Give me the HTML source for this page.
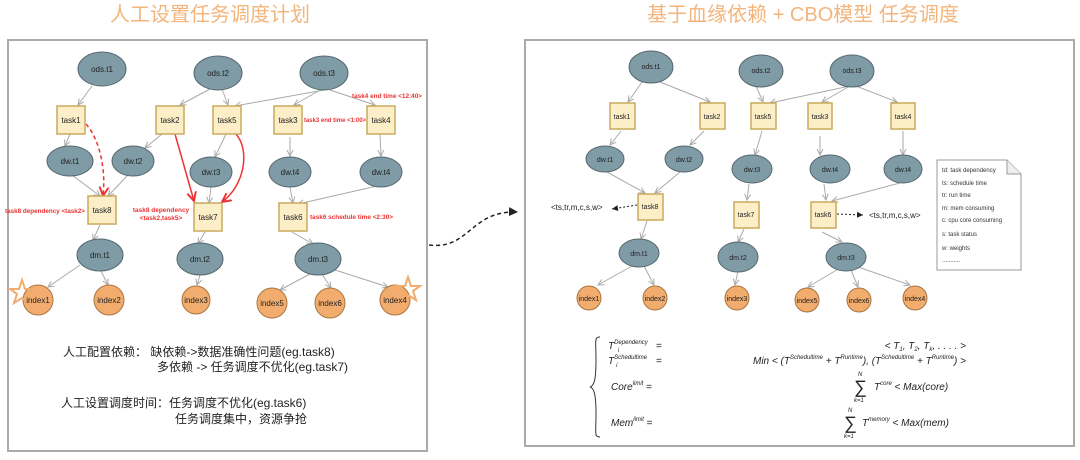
<!DOCTYPE html>
<html><head><meta charset="utf-8"><style>
html,body{margin:0;padding:0;background:#fff;}
svg{display:block;}
text{font-family:"Liberation Sans","Noto Sans CJK SC",sans-serif;}
</style></head><body>
<svg width="1080" height="460" viewBox="0 0 1080 460" xmlns="http://www.w3.org/2000/svg">
<defs>
<marker id="ag" markerWidth="8" markerHeight="8" refX="6" refY="4" orient="auto"><path d="M0,1 L6,4 L0,7" fill="none" stroke="#aaa" stroke-width="1"/></marker>
<marker id="ar" markerWidth="8" markerHeight="8" refX="6" refY="4" orient="auto"><path d="M0,1 L6,4 L0,7" fill="none" stroke="#e33" stroke-width="1.3"/></marker>
<marker id="ab" markerWidth="8" markerHeight="8" refX="6" refY="4" orient="auto"><path d="M0,1 L6,4 L0,7 Z" fill="#222"/></marker>
</defs>
<text x="210" y="21" font-size="20" fill="#f4b57c" text-anchor="middle">人工设置任务调度计划</text>
<text x="803" y="21" font-size="20" fill="#f4b57c" text-anchor="middle">基于血缘依赖 + CBO模型 任务调度</text>
<rect x="8" y="40" width="419" height="411" fill="#fff" stroke="#aaa" stroke-width="2"/>
<rect x="525" y="40" width="549" height="406" fill="#fff" stroke="#aaa" stroke-width="2"/>
<path d="M429,245 C470,250 470,210 518,212" fill="none" stroke="#222" stroke-width="1.5" stroke-dasharray="4,3" marker-end="url(#ab)"/>

<g stroke="#aaa" stroke-width="1" fill="none" marker-end="url(#ag)">
<line x1="92" y1="86" x2="78" y2="105"/>
<line x1="210" y1="89" x2="180" y2="105"/>
<line x1="222" y1="89" x2="228" y2="105"/>
<line x1="324" y1="90" x2="235" y2="106"/>
<line x1="320" y1="90" x2="294" y2="105"/>
<line x1="330" y1="90" x2="375" y2="105"/>
<line x1="70" y1="134" x2="65" y2="146"/>
<line x1="162" y1="134" x2="145" y2="148"/>
<line x1="226" y1="134" x2="215" y2="157"/>
<line x1="290" y1="137" x2="290" y2="156"/>
<line x1="380" y1="134" x2="381" y2="156"/>
<line x1="72" y1="175" x2="100" y2="196"/>
<line x1="128" y1="175" x2="108" y2="196"/>
<line x1="211" y1="187" x2="209" y2="203"/>
<line x1="290" y1="187" x2="293" y2="203"/>
<line x1="377" y1="186" x2="298" y2="204"/>
<line x1="100" y1="225" x2="93" y2="240"/>
<line x1="205" y1="232" x2="198" y2="244"/>
<line x1="292" y1="232" x2="313" y2="244"/>
<line x1="80" y1="265" x2="48" y2="287"/>
<line x1="101" y1="271" x2="108" y2="285"/>
<line x1="200" y1="275" x2="197" y2="285"/>
<line x1="310" y1="274" x2="280" y2="290"/>
<line x1="322" y1="274" x2="331" y2="288"/>
<line x1="335" y1="270" x2="388" y2="287"/>
<line x1="642" y1="82" x2="628" y2="102"/>
<line x1="660" y1="82" x2="710" y2="102"/>
<line x1="756" y1="86" x2="763" y2="102"/>
<line x1="850" y1="86" x2="770" y2="103"/>
<line x1="850" y1="86" x2="822" y2="102"/>
<line x1="856" y1="86" x2="897" y2="102"/>
<line x1="621" y1="131" x2="610" y2="145"/>
<line x1="704" y1="131" x2="690" y2="145"/>
<line x1="762" y1="131" x2="755" y2="155"/>
<line x1="820" y1="136" x2="820" y2="155"/>
<line x1="903" y1="131" x2="903" y2="155"/>
<line x1="607" y1="172" x2="645" y2="193"/>
<line x1="680" y1="172" x2="655" y2="193"/>
<line x1="749" y1="184" x2="747" y2="200"/>
<line x1="824" y1="184" x2="826" y2="200"/>
<line x1="900" y1="183" x2="832" y2="201"/>
<line x1="647" y1="221" x2="641" y2="239"/>
<line x1="744" y1="229" x2="738" y2="242"/>
<line x1="822" y1="232" x2="842" y2="242"/>
<line x1="632" y1="266" x2="598" y2="285"/>
<line x1="644" y1="266" x2="654" y2="285"/>
<line x1="738" y1="271" x2="735" y2="285"/>
<line x1="840" y1="268" x2="808" y2="287"/>
<line x1="851" y1="270" x2="858" y2="287"/>
<line x1="858" y1="267" x2="910" y2="285"/>
</g>
<g stroke="#e33" stroke-width="1.5" fill="none" marker-end="url(#ar)">
<path d="M86,124 C100,140 106,170 103,196" stroke-dasharray="4,3"/>
<path d="M175,134 L194,201"/>
<path d="M236,134 C250,150 245,185 222,202"/>
</g>
<g font-size="6.5" fill="#e33" font-weight="bold">
<text x="352" y="98" textLength="70" lengthAdjust="spacingAndGlyphs">task4 end time &lt;12:40&gt;</text>
<text x="304" y="122" textLength="62" lengthAdjust="spacingAndGlyphs">task3 end time &lt;1:00&gt;</text>
<text x="5" y="213" textLength="80" lengthAdjust="spacingAndGlyphs">task8 dependency &lt;task2&gt;</text>
<text x="161" y="212" text-anchor="middle">task8 dependency</text>
<text x="161" y="220" text-anchor="middle">&lt;task2,task5&gt;</text>
<text x="310" y="219" textLength="83" lengthAdjust="spacingAndGlyphs">task6 schedule time &lt;2:30&gt;</text>
</g>

<g fill="#7f9ba6" stroke="#56676e" stroke-width="1">
<ellipse cx="102" cy="69" rx="24" ry="17"/><ellipse cx="218" cy="73" rx="24" ry="17"/><ellipse cx="324" cy="73" rx="24" ry="17"/>
<ellipse cx="70" cy="161" rx="23" ry="15"/><ellipse cx="133" cy="161" rx="21" ry="15"/><ellipse cx="211" cy="172" rx="21" ry="15"/><ellipse cx="290" cy="172" rx="21" ry="15"/><ellipse cx="381" cy="172" rx="21" ry="15"/>
<ellipse cx="100" cy="255" rx="23" ry="16"/><ellipse cx="200" cy="259" rx="23" ry="16"/><ellipse cx="318" cy="259" rx="23" ry="16"/>
<ellipse cx="651" cy="67" rx="22" ry="16"/><ellipse cx="761" cy="71" rx="22" ry="16"/><ellipse cx="852" cy="71" rx="22" ry="16"/>
<ellipse cx="605" cy="159" rx="19" ry="13"/><ellipse cx="684" cy="159" rx="19" ry="13"/><ellipse cx="752" cy="169" rx="20" ry="14"/><ellipse cx="830" cy="169" rx="20" ry="14"/><ellipse cx="903" cy="169" rx="19" ry="14"/>
<ellipse cx="639" cy="253" rx="20" ry="14"/><ellipse cx="738" cy="257" rx="20" ry="15"/><ellipse cx="846" cy="257" rx="20" ry="14"/>
</g>
<g fill="#f2ad6e" stroke="#a8743f" stroke-width="1">
<circle cx="38" cy="300" r="15"/><circle cx="109" cy="300" r="15"/><circle cx="196" cy="300" r="14"/><circle cx="272" cy="303" r="15"/><circle cx="330" cy="303" r="15"/><circle cx="395" cy="300" r="15"/>
<circle cx="589" cy="298" r="12"/><circle cx="655" cy="298" r="12"/><circle cx="737" cy="298" r="12"/><circle cx="807" cy="300" r="12"/><circle cx="859" cy="300" r="12"/><circle cx="915" cy="298" r="12"/>
</g>
<g fill="none" stroke="#f2ad6e" stroke-width="2">
<path d="M22,280 L25,289 L34,289 L27,294 L30,303 L22,298 L14,303 L17,294 L10,289 L19,289 Z"/>
<path d="M408,277 L411,286 L420,286 L413,291 L416,300 L408,295 L400,300 L403,291 L396,286 L405,286 Z"/>
</g>
<g fill="#fcefc8" stroke="#c9aa5a" stroke-width="1.5">
<rect x="57" y="106" width="28" height="28"/><rect x="156" y="106" width="28" height="28"/><rect x="213" y="106" width="28" height="28"/><rect x="274" y="106" width="28" height="28"/><rect x="367" y="106" width="28" height="28"/>
<rect x="88" y="196" width="28" height="28"/><rect x="194" y="203" width="28" height="28"/><rect x="279" y="203" width="28" height="28"/>
<rect x="610" y="103" width="25" height="26"/><rect x="700" y="103" width="25" height="26"/><rect x="751" y="103" width="25" height="26"/><rect x="808" y="103" width="24" height="26"/><rect x="891" y="103" width="24" height="26"/>
<rect x="638" y="194" width="25" height="26"/><rect x="734" y="202" width="25" height="26"/><rect x="811" y="202" width="25" height="26"/>
</g>
<g font-size="8" fill="#222" text-anchor="middle">
<text x="102" y="72">ods.t1</text><text x="218" y="76">ods.t2</text><text x="324" y="76">ods.t3</text>
<text x="71" y="123">task1</text><text x="170" y="123">task2</text><text x="227" y="123">task5</text><text x="288" y="123">task3</text><text x="381" y="123">task4</text>
<text x="70" y="164">dw.t1</text><text x="133" y="164">dw.t2</text><text x="211" y="175">dw.t3</text><text x="290" y="175">dw.t4</text><text x="381" y="175">dw.t4</text>
<text x="102" y="213">task8</text><text x="208" y="220">task7</text><text x="293" y="220">task6</text>
<text x="100" y="258">dm.t1</text><text x="200" y="262">dm.t2</text><text x="318" y="262">dm.t3</text>
<text x="38" y="303">index1</text><text x="109" y="303">index2</text><text x="196" y="303">index3</text><text x="272" y="306">index5</text><text x="330" y="306">index6</text><text x="395" y="303">index4</text>
</g>
<g font-size="7" fill="#222" text-anchor="middle">
<text x="651" y="69">ods.t1</text><text x="761" y="73">ods.t2</text><text x="852" y="73">ods.t3</text>
<text x="622" y="119">task1</text><text x="712" y="119">task2</text><text x="763" y="119">task5</text><text x="820" y="119">task3</text><text x="903" y="119">task4</text>
<text x="605" y="162">dw.t1</text><text x="684" y="162">dw.t2</text><text x="752" y="172">dw.t3</text><text x="830" y="172">dw.t4</text><text x="903" y="172">dw.t4</text>
<text x="650" y="209">task8</text><text x="746" y="217">task7</text><text x="823" y="217">task6</text>
<text x="639" y="256">dm.t1</text><text x="738" y="260">dm.t2</text><text x="846" y="260">dm.t3</text>
<text x="589" y="301">index1</text><text x="655" y="301">index2</text><text x="737" y="301">index3</text><text x="807" y="303">index5</text><text x="859" y="303">index6</text><text x="915" y="301">index4</text>
</g>
<g stroke="#222" stroke-width="1" stroke-dasharray="2,2" fill="none" marker-end="url(#ab)">
<line x1="637" y1="205" x2="612" y2="209"/>
<line x1="837" y1="214" x2="863" y2="215"/>
</g>
<text x="551" y="210" font-size="8" fill="#222">&lt;ts,tr,m,c,s,w&gt;</text>
<text x="869" y="218" font-size="8" fill="#222">&lt;ts,tr,m,c,s,w&gt;</text>
<path d="M937,160 L1007,160 L1021,174 L1021,270 L937,270 Z" fill="#fff" stroke="#999"/>
<path d="M1007,160 L1007,174 L1021,174" fill="#eee" stroke="#999"/>
<g font-size="6" fill="#333">
<text x="942" y="172">td: task dependency</text><text x="942" y="185">ts: schedule time</text><text x="942" y="197">tr: run time</text>
<text x="942" y="210">m: mem consuming</text><text x="942" y="222">c: cpu core consuming</text><text x="942" y="236">s: task status</text>
<text x="942" y="250">w: weights</text><text x="942" y="262">...........</text>
</g>

<g font-size="12" fill="#222">
<text x="63" y="356">人工配置依赖：  缺依赖-&gt;数据准确性问题(eg.task8)</text>
<text x="157" y="371">多依赖 -&gt; 任务调度不优化(eg.task7)</text>
<text x="61" y="407">人工设置调度时间：任务调度不优化(eg.task6)</text>
<text x="175" y="423">任务调度集中，资源争抢</text>
</g>
<path d="M600,337 C594,337 596,340 596,360 C596,380 594,386 590,387 C594,388 596,394 596,414 C596,434 594,437 600,437" fill="none" stroke="#333" stroke-width="1"/>
<g font-family="Liberation Serif,serif" font-style="italic" fill="#222" font-size="10">
<text x="608" y="349">T<tspan font-size="6" dy="-5">Dependency</tspan><tspan font-size="6" dx="-30" dy="8">i</tspan></text>
<text x="656" y="349" font-style="normal">=</text>
<text x="608" y="364">T<tspan font-size="6" dy="-5">Schedultime</tspan><tspan font-size="6" dx="-31" dy="8">i</tspan></text>
<text x="656" y="364" font-style="normal">=</text>
<text x="966" y="349" text-anchor="end">&lt; T<tspan font-size="6" dy="2">1</tspan><tspan dy="-2">, T</tspan><tspan font-size="6" dy="2">2</tspan><tspan dy="-2">, T</tspan><tspan font-size="6" dy="2">k</tspan><tspan dy="-2">, . . . . &gt;</tspan></text>
<text x="966" y="364" text-anchor="end">Min &lt; (T<tspan font-size="6" dy="-5">Schedultime</tspan><tspan dy="5"> + T</tspan><tspan font-size="6" dy="-5">Runtime</tspan><tspan dy="5">), (T</tspan><tspan font-size="6" dy="-5">Schedultime</tspan><tspan dy="5"> + T</tspan><tspan font-size="6" dy="-5">Runtime</tspan><tspan dy="5">) &gt;</tspan></text>
<text x="611" y="390">Core<tspan font-size="6" dy="-5">limit</tspan><tspan dy="5" font-style="normal"> =</tspan></text>
<text x="611" y="426">Mem<tspan font-size="6" dy="-5">limit</tspan><tspan dy="5" font-style="normal"> =</tspan></text>
<text x="854" y="393" font-size="18" font-style="normal">∑</text>
<text x="858" y="376" font-size="6">N</text><text x="854" y="402" font-size="6">k=1</text>
<text x="874" y="390">T<tspan font-size="6" dy="-5">core</tspan><tspan dy="5"> &lt; Max(core)</tspan></text>
<text x="844" y="429" font-size="18" font-style="normal">∑</text>
<text x="848" y="412" font-size="6">N</text><text x="844" y="438" font-size="6">k=1</text>
<text x="862" y="426">T<tspan font-size="6" dy="-5">memory</tspan><tspan dy="5"> &lt; Max(mem)</tspan></text>
</g>
</svg>
</body></html>
